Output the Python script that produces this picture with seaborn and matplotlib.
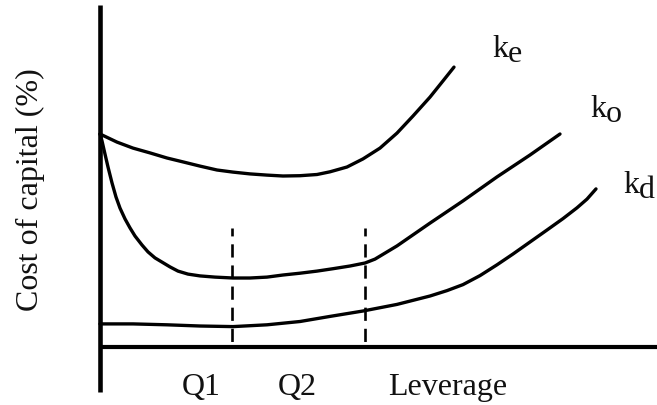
import numpy as np
import pandas as pd
import matplotlib
matplotlib.use("Agg")
import matplotlib.pyplot as plt
import seaborn as sns

# ---- data (leverage units, cost-of-capital units; schematic diagram) ----
ke_x = [0, 0.34, 0.66, 1.00, 1.34, 1.66, 2.00, 2.34, 2.66, 3.00, 3.34, 3.66, 4.00,
        4.34, 4.60, 4.94, 5.26, 5.60, 5.94, 6.26, 6.60, 6.86, 7.08]
ke_y = [7.10, 6.83, 6.63, 6.47, 6.30, 6.17, 6.03, 5.90, 5.83, 5.77, 5.73, 5.70, 5.71,
        5.75, 5.84, 6.00, 6.27, 6.63, 7.13, 7.70, 8.33, 8.87, 9.33]

ko_x = [0, 0.04, 0.10, 0.16, 0.24, 0.32, 0.40, 0.50, 0.60, 0.70, 0.84, 0.96, 1.10,
        1.24, 1.40, 1.56, 1.76, 2.00, 2.30, 2.66, 3.00, 3.34, 3.66, 4.00, 4.34,
        4.66, 5.00, 5.30, 5.50, 5.70, 5.94, 6.60, 7.26, 7.94, 8.60, 9.20]
ko_y = [7.10, 6.87, 6.43, 6.00, 5.47, 5.00, 4.63, 4.27, 3.97, 3.70, 3.40, 3.17, 2.97,
        2.83, 2.67, 2.53, 2.43, 2.37, 2.33, 2.30, 2.30, 2.33, 2.40, 2.46, 2.53,
        2.61, 2.70, 2.80, 2.93, 3.13, 3.37, 4.13, 4.87, 5.67, 6.40, 7.10]

kd_x = [0, 0.66, 1.34, 2.00, 2.66, 3.34, 4.00, 4.60, 5.26, 5.94, 6.60, 6.94, 7.26,
        7.60, 7.94, 8.26, 8.60, 8.94, 9.26, 9.54, 9.74, 9.92]
kd_y = [0.77, 0.77, 0.74, 0.70, 0.68, 0.74, 0.85, 1.02, 1.20, 1.42, 1.70, 1.88, 2.08,
        2.38, 2.74, 3.10, 3.50, 3.90, 4.28, 4.64, 4.93, 5.27]

q_positions = [2.64, 5.30]
q_top = 3.97
x_tick_labels = ["Q1", "Q2", "Leverage"]
x_tick_pos = [2.02, 3.94, 6.96]
curve_names = ["k", "k", "k"]
curve_subs = ["e", "o", "d"]
curve_label_pos = [(7.84, 9.70), (9.80, 7.70), (10.46, 5.17)]
y_label = "Cost of capital (%)"

# ---- build frame ----
df = pd.concat([
    pd.DataFrame({"leverage": ke_x, "cost": ke_y, "curve": "ke"}),
    pd.DataFrame({"leverage": ko_x, "cost": ko_y, "curve": "ko"}),
    pd.DataFrame({"leverage": kd_x, "cost": kd_y, "curve": "kd"}),
], ignore_index=True)

sns.set_style("white")
plt.rcParams["font.family"] = ["Liberation Serif", "DejaVu Serif"]

fig = plt.figure(figsize=(6.57, 4.06), dpi=100)
ax = fig.add_axes([0, 0, 1, 1])
ax.set_xlim(-2.0, 11.14)
ax.set_ylim(-1.933, 11.6)
ax.axis("off")

sns.lineplot(data=df, x="leverage", y="cost", hue="curve", units="curve",
             estimator=None, sort=False, palette=["black"] * 3,
             linewidth=2.4, legend=False, ax=ax,
             solid_capstyle="round", solid_joinstyle="round")

# axes lines
ax.plot([0, 0], [-1.5, 11.4], color="black", lw=3.3, solid_capstyle="butt")
ax.plot([0, 11.2], [0, 0], color="black", lw=3.0, solid_capstyle="butt")

# dashed guides
for q in q_positions:
    ax.plot([q, q], [q_top, 0], color="black", lw=1.9,
            linestyle=(2, (5.0, 3.0)))

tc = "#111111"
fs = 23
for lbl, xp in zip(x_tick_labels, x_tick_pos):
    ax.text(xp, -1.567, lbl, ha="center", va="baseline", fontsize=fs, color=tc)

for name, sub, (xp, yp) in zip(curve_names, curve_subs, curve_label_pos):
    ax.text(xp, yp, name, ha="left", va="baseline", fontsize=fs, color=tc)
    ax.annotate(sub, xy=(xp, yp), xytext=(16, -5), textcoords="offset pixels",
                ha="left", va="baseline", fontsize=fs, color=tc,
                annotation_clip=False)

ax.text(-1.4, 5.27, y_label, rotation=90, ha="center", va="center",
        fontsize=fs, color=tc)

fig.savefig("out.png", dpi=100)
